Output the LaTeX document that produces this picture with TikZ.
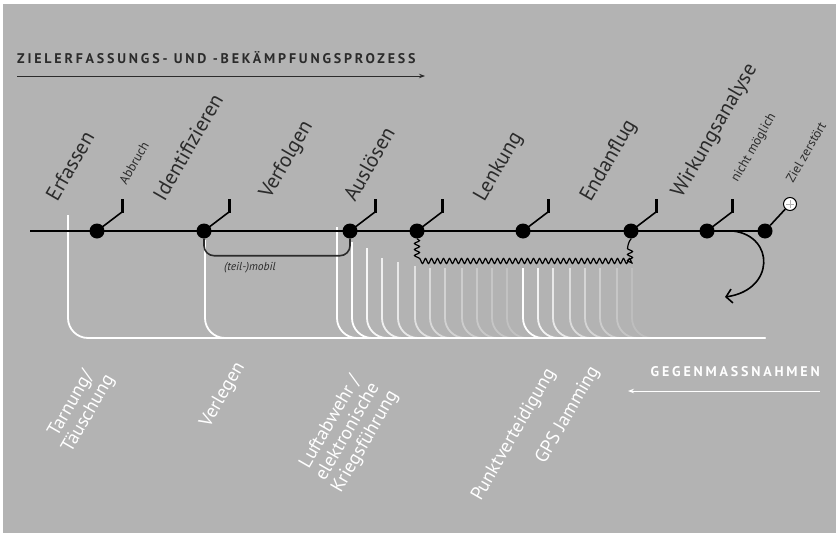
\documentclass[tikz,border=0pt]{standalone}
\usepackage{fontspec}
\setmainfont{PT Sans}
\newfontfamily\spacedfont{PT Sans}[LetterSpace=20]
\usepackage{tikz}
\usetikzlibrary{arrows.meta, decorations.pathmorphing}
\definecolor{bggrey}{HTML}{B3B3B3}
\definecolor{inkgrey}{HTML}{2B2B2B}

\begin{document}
\begin{tikzpicture}[x=1pt, y=-1pt,
    dot/.style={circle, fill=black, inner sep=0pt, minimum size=15pt},
    phase/.style={rotate=60, font=\fontsize{21}{23}\selectfont, text=inkgrey, inner sep=0pt},
    note/.style={rotate=60, font=\fontsize{13}{15}\selectfont, text=inkgrey, inner sep=0pt},
    counterlabel/.style={rotate=60, font=\fontsize{19}{20}\selectfont, text=white, align=center, inner sep=0pt},
    caps/.style={inner sep=0pt, font=\spacedfont\fontsize{14}{16}\bfseries\selectfont},
    flag/.style={line width=1.6pt},
    arr/.style={-{Stealth[length=6pt]}, line width=0.9pt},
    cmline/.style={white, line width=1.8pt, rounded corners=20pt},
    wavy/.style={line width=1.2pt, decorate, decoration={snake, amplitude=2.5pt, segment length=6pt}}
  ]
  \fill[white] (0,0) rectangle (836,533);
  \fill[bggrey] (3,4) rectangle (836,533);
  \useasboundingbox (0,0) rectangle (836,533);

  % title and process direction
  \node[caps, text=inkgrey, anchor=base west] (title) at (17,63) {ZIELERFASSUNGS- UND -BEKÄMPFUNGSPROZESS};
  \coordinate (t0) at (17,76);
  \coordinate (t1) at (425,76);
  \draw[arr, inkgrey] (t0) -- (t1);

  % countermeasure lines (behind the process line)
  \coordinate (cmend) at (765,338);
  \draw[cmline] (68,215) |- (cmend);
  \draw[cmline] (205,240) |- (cmend);
  \foreach \x/\t/\o in {337/227/1, 352/242/1, 367/248/.9, 382/258/.8, 398/262/.7, 415/266/.6,
      430/268/.5, 445/268/.42, 462/268/.35, 477/268/.3, 492/268/.25, 507/268/.2}
    \draw[cmline, opacity=\o] (\x,\t) |- (cmend);
  \foreach \x/\o in {523/1, 538/.85, 553/.7, 570/.55, 585/.45, 600/.35, 617/.25, 632/.15}
    \draw[cmline, opacity=\o] (\x,268) |- (cmend);

  % process line with stations
  \coordinate (start) at (30,231);
  \foreach \x [count=\i] in {97,204,350,417,523,631,707,765}
    \node[dot] (d\i) at (\x,231) {};
  \draw[line width=2.4pt] (start) -- (d8.center);
  \foreach \i in {1,...,7}{
    \draw[flag] (d\i.center) -- ++(25,-19) coordinate (f\i);
    \draw[line width=3pt] ([yshift=-1pt]f\i) -- ++(0,-14);
  }
  \node[circle, draw=black, fill=white, line width=1pt, minimum size=13pt, inner sep=0pt] (goal) at (790,204) {};
  \draw[flag] (d8) -- (goal);
  \draw[bggrey, line width=0.9pt] ([yshift=4pt]goal.center) -- ([yshift=-4pt]goal.center)
    ([xshift=-4pt]goal.center) -- ([xshift=4pt]goal.center);

  % phase labels
  \node[phase] (erf)  at (70,166)  {Erfassen};
  \node[note]  (abb)  at (134,163) {Abbruch};
  \node[phase] (ide)  at (188,147) {Identifizieren};
  \node[phase] (verf) at (287,160) {Verfolgen};
  \node[phase] (aus)  at (369,164) {Auslösen};
  \node[phase] (len)  at (499,167) {Lenkung};
  \node[phase] (enda) at (609,161) {Endanflug};
  \node[phase] (wir)  at (715,131) {Wirkungsanalyse};
  \node[note]  (nim)  at (754,148) {nicht möglich};
  \node[note]  (zie)  at (806,152) {Ziel zerstört};

  % mobile target, guided flight, re-attack
  \draw[line width=1.6pt, inkgrey, rounded corners=10pt] (d2.south) -- ++(0,17) -| (d3.south);
  \node[font=\itshape\fontsize{11.5}{13}\selectfont, text=inkgrey] (mob) at (250,268) {(teil-)mobil};
  \draw[wavy] (d4.south) -- ++(0,18) -| (d6.south);
  \coordinate (turn) at (733,231);
  \coordinate (back) at (725,297);
  \draw[line width=1.6pt, -{Straight Barb[length=6pt, width=14pt]}] (turn) .. controls (775,236) and (775,290) .. (back);

  % countermeasure labels
  \node[counterlabel] (tarn) at (80,409)  {Tarnung/\\Täuschung};
  \node[counterlabel] (verl) at (223,395) {Verlegen};
  \node[counterlabel] (luft) at (348,432) {Luftabwehr /\\elektronische\\Kriegsführung};
  \node[counterlabel] (punk) at (514,435) {Punktverteidigung};
  \node[counterlabel] (gps)  at (568,415) {GPS Jamming};

  \node[caps, text=white, anchor=base east] (gegen) at (820,376) {GEGENMASSNAHMEN};
  \coordinate (g0) at (820,391);
  \coordinate (g1) at (628,391);
  \draw[arr, white] (g0) -- (g1);
\end{tikzpicture}
\end{document}
